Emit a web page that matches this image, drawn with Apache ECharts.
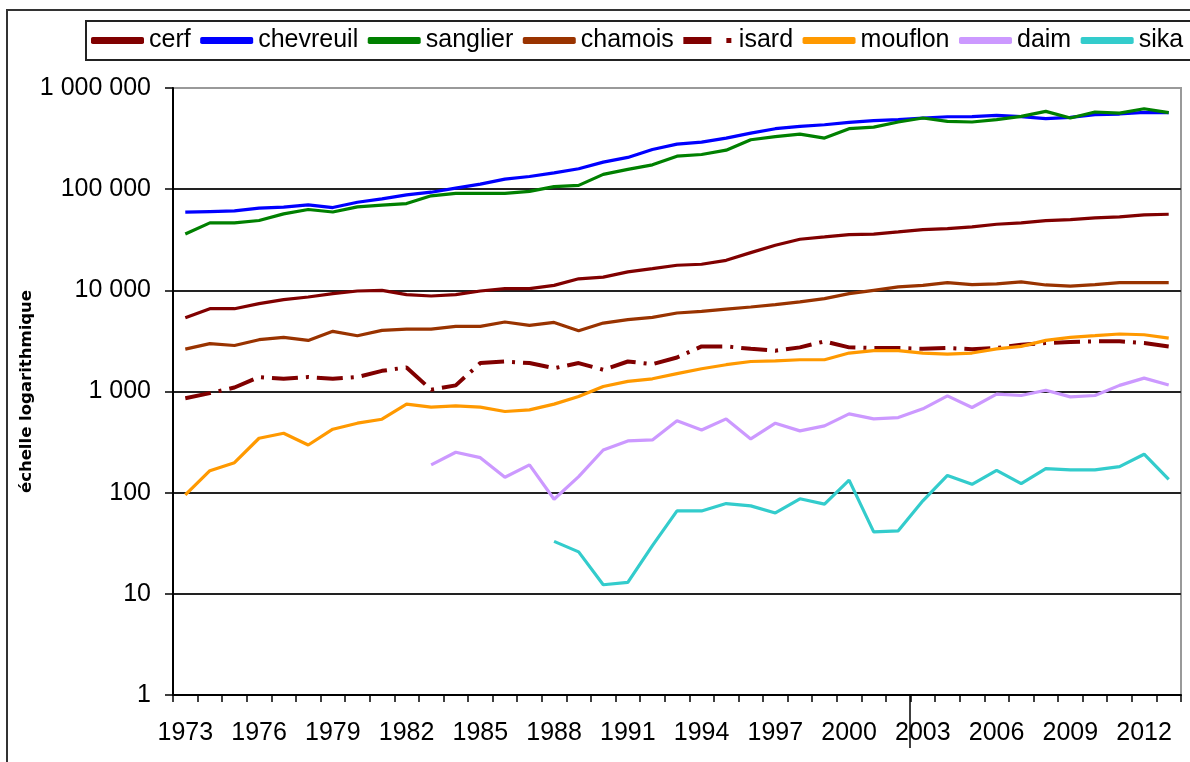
<!DOCTYPE html>
<html>
<head>
<meta charset="utf-8">
<script src="https://cdn.jsdelivr.net/npm/echarts@6/dist/echarts.min.js"></script>
<style>
html,body{margin:0;padding:0;background:#fff;}
#c{width:1190px;height:762px;}
</style>
</head>
<body>
<div id="c"></div>
<script>
const years = ['1973','1974','1975','1976','1977','1978','1979','1980','1981','1982','1983','1984','1985','1986','1987','1988','1989','1990','1991','1992','1993','1994','1995','1996','1997','1998','1999','2000','2001','2002','2003','2004','2005','2006','2007','2008','2009','2010','2011','2012','2013'];

const cerf = [5360,6580,6580,7380,8090,8590,9270,9850,10000,9060,8790,9060,9850,10400,10400,11200,13000,13500,15200,16400,17700,
  18100,19800,23600,27900,32000,33700,35600,35900,37800,39900,40800,42400,45000,46400,48900,50000,52000,53200,55700,56500];
const chevreuil = [59200,60100,61000,64900,66400,70000,65800,74300,80200,87900,93300,102300,112000,125700,133500,145000,159000,185000,206000,247000,279000,
  292000,320000,358000,396000,417000,433000,457000,475000,486000,505000,520000,522000,536000,522000,497000,512000,545000,553000,574000,570000];
const sanglier = [36000,46400,46400,49000,57000,63000,59500,66800,69500,72000,86000,91000,91000,91000,95000,106000,109000,140000,157000,174000,212000,
  220000,243000,308000,330000,350000,320000,396000,411000,461000,505000,468000,461000,486000,524000,588000,505000,579000,565000,624000,570000];
const chamois = [2620,2970,2850,3250,3430,3200,3930,3560,4020,4140,4140,4400,4400,4860,4500,4820,3990,4750,5130,5410,5970,
  6190,6530,6840,7210,7700,8270,9270,10000,10800,11200,11900,11400,11600,12100,11300,11000,11400,11900,11900,11900];
const isard = [859,963,1095,1390,1335,1390,1335,1390,1600,1730,1040,1150,1910,1980,1910,1700,1910,1640,1980,1860,2170,
  2790,2790,2640,2530,2730,3130,2730,2690,2690,2640,2690,2620,2690,2900,3010,3080,3130,3130,3010,2790];
const mouflon = [95,165,198,345,387,296,424,486,532,750,700,721,700,634,658,750,892,1120,1260,1335,1500,
  1680,1840,1980,2010,2060,2060,2400,2530,2530,2400,2340,2400,2640,2790,3200,3430,3560,3700,3640,3370];
const daim = [null,null,null,null,null,null,null,null,null,null,188,251,222,142,188,86,144,264,325,332,513,
  417,536,340,486,408,457,601,536,553,674,906,695,941,913,1030,885,913,1150,1355,1160];
const sika = [null,null,null,null,null,null,null,null,null,null,null,null,null,null,null,33,26,12.3,13,30,66,
  66,78,74,63,87,77,133,41,42,83,148,121,166,123,173,168,168,181,240,135];

const yTicks = [1,10,100,1000,10000,100000,1000000];

const FONT = '"Liberation Sans", Arial, sans-serif';

const defs = [
  {name:'cerf', data:cerf, color:'#800000'},
  {name:'chevreuil', data:chevreuil, color:'#0000FF'},
  {name:'sanglier', data:sanglier, color:'#008000'},
  {name:'chamois', data:chamois, color:'#993300'},
  {name:'isard', data:isard, color:'#800000', dash:[26,8,3,8], width:4},
  {name:'mouflon', data:mouflon, color:'#FF9900'},
  {name:'daim', data:daim, color:'#CC99FF'},
  {name:'sika', data:sika, color:'#33CCCC'}
];

const chart = echarts.init(document.getElementById('c'), null, {renderer:'canvas'});

const fmt = v => String(Math.round(v)).replace(/\B(?=(\d{3})+(?!\d))/g, ' ');

const option = {
  backgroundColor:'#fff',
  animation:false,
  textStyle:{fontFamily:FONT},
  legend:{
    type:'plain', orient:'horizontal',
    left:86, top:21, width:1400,
    padding:[7,40,7,5],
    borderColor:'#222', borderWidth:2,
    itemWidth:53, itemHeight:7, itemGap:9.5,
    textStyle:{fontSize:25, color:'#000', fontFamily:FONT, padding:[0,0,0,0]},
    data: defs.map(d => d.dash ? {name:d.name, icon:'path://M0,0H28V7H0Z M43,1H48V6H43Z'} : {name:d.name, icon:'roundRect'})
  },
  grid:{left:173, right:9, top:88, bottom:67, show:true, borderColor:'#999', borderWidth:2, backgroundColor:'#fff'},
  xAxis:{
    type:'category', data:years, boundaryGap:true,
    axisLine:{lineStyle:{color:'#000', width:2}},
    axisTick:{show:true, interval:0, length:7, alignWithLabel:false, lineStyle:{color:'#000', width:1.5}},
    axisLabel:{interval:2, fontSize:25, color:'#000', margin:26, fontFamily:FONT},
    splitLine:{show:false}
  },
  yAxis:{
    type:'log', logBase:10, min:yTicks[0], max:yTicks[yTicks.length-1],
    name:'échelle logarithmique', nameLocation:'middle', nameRotate:90, nameGap:138, nameMoveOverlap:false,
    nameTextStyle:{fontFamily:'"DejaVu Sans", sans-serif', fontWeight:'bold', fontSize:16.5, color:'#000'},
    axisLine:{show:true, lineStyle:{color:'#000', width:2}},
    axisTick:{show:true, length:8, lineStyle:{color:'#000', width:1.5}},
    axisLabel:{fontSize:25, color:'#000', margin:22, fontFamily:FONT, formatter:fmt},
    splitLine:{show:true, lineStyle:{color:['#222','#222','#222','#222','#222','#222','#999'], width:2}},
    minorTick:{show:false}
  },
  series: defs.map(d => ({
    name:d.name, type:'line', data:d.data, symbol:'none', smooth:false, connectNulls:false,
    color:d.color,
    itemStyle:{color:d.color},
    lineStyle:{color:d.color, width:d.width || 3.2, type:d.dash || 'solid', cap:'butt'},
    z: 3
  })),
  graphic:[
    {type:'rect', shape:{x:7, y:10, width:1220, height:800}, style:{fill:'none', stroke:'#333', lineWidth:2}, z:-1, silent:true},
    {type:'line', shape:{x1:910, y1:696, x2:910, y2:748}, style:{stroke:'#000', lineWidth:1.5}, z:10, silent:true}
  ]
};
chart.setOption(option);
</script>
</body>
</html>
